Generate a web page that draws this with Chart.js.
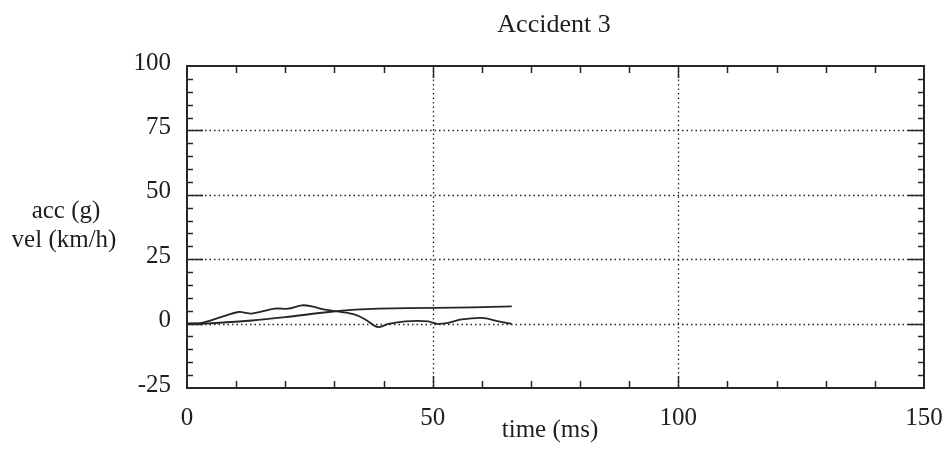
<!DOCTYPE html>
<html><head><meta charset="utf-8">
<script src="https://cdn.jsdelivr.net/npm/chart.js@4/dist/chart.umd.min.js"></script>
<style>html,body{margin:0;padding:0;background:#fff}#wrap{width:952px;height:449px}</style>
</head><body><div id="wrap"><canvas id="c" width="952" height="449"></canvas></div>
<script>
const titleText = "Accident 3";
const xTitle = "time (ms)";
const yTitleLines = ["acc (g)", "vel (km/h)"];
const accTime = [0, 3.0, 6.4, 10.5, 13.2, 17.9, 20.6, 23.4, 25.4, 28.1, 31.5, 34.2, 36.3, 38.3, 39.3, 41.0, 44.4, 49.1, 50.9, 53.2, 55.9, 60.0, 63.4, 66.1];
const accVal  = [0, 0.3, 2.2, 4.5, 3.9, 5.8, 5.8, 7.1, 6.7, 5.4, 4.5, 3.5, 1.6, -1.0, -1.3, -0.1, 0.9, 0.9, -0.1, 0.3, 1.6, 2.2, 0.9, -0.1];
const velTime = [0, 3.7, 13.2, 20.0, 28.8, 34.2, 39.0, 50.6, 58.1, 66.1];
const velVal  = [0, 0, 1.2, 2.5, 4.5, 5.4, 5.8, 6.1, 6.3, 6.7];
const xMajor = [0, 50, 100, 150];
const yMajor = [-25, 0, 25, 50, 75, 100];
const xMinor = [10, 20, 30, 40, 50, 60, 70, 80, 90, 100, 110, 120, 130, 140];
const yMinor = [-20, -15, -10, -5, 0, 5, 10, 15, 20, 25, 30, 35, 40, 45, 50, 55, 60, 65, 70, 75, 80, 85, 90, 95];
const xGrid = [50, 100];
const yGrid = [0, 25, 50, 75];

const FONT = "'Liberation Serif', 'Times New Roman', serif";
const INK = '#262626';

const frame = {
  id: 'frame',
  afterDatasetsDraw(chart) {
    const {ctx, chartArea: a, scales: {x, y}} = chart;
    ctx.save();
    // dotted grid
    ctx.strokeStyle = INK; ctx.lineWidth = 1.3; ctx.setLineDash([1.5, 3]);
    yGrid.forEach(v => { const py = Math.round(y.getPixelForValue(v)) + 0.5; ctx.beginPath(); ctx.moveTo(a.left, py); ctx.lineTo(a.right, py); ctx.stroke(); });
    xGrid.forEach(v => { const px = Math.round(x.getPixelForValue(v)) + 0.5; ctx.beginPath(); ctx.moveTo(px, a.top); ctx.lineTo(px, a.bottom); ctx.stroke(); });
    ctx.setLineDash([]);
    // border
    ctx.lineWidth = 2; ctx.strokeStyle = INK;
    ctx.strokeRect(a.left, a.top, a.right - a.left, a.bottom - a.top);
    // ticks
    ctx.lineWidth = 1.5;
    xMinor.forEach(v => {
      const px = Math.round(x.getPixelForValue(v)) + 0.5;
      const len = xGrid.includes(v) ? 12 : 7;
      ctx.beginPath(); ctx.moveTo(px, a.bottom); ctx.lineTo(px, a.bottom - len); ctx.stroke();
      ctx.beginPath(); ctx.moveTo(px, a.top); ctx.lineTo(px, a.top + len); ctx.stroke();
    });
    yMinor.forEach(v => {
      const py = Math.round(y.getPixelForValue(v)) + 0.5;
      const len = yGrid.includes(v) ? 16 : 6;
      ctx.beginPath(); ctx.moveTo(a.left, py); ctx.lineTo(a.left + len, py); ctx.stroke();
      ctx.beginPath(); ctx.moveTo(a.right, py); ctx.lineTo(a.right - len, py); ctx.stroke();
    });
    // texts
    ctx.fillStyle = '#1e1e1e';
    ctx.textAlign = 'center'; ctx.textBaseline = 'alphabetic';
    ctx.font = '26px ' + FONT;
    ctx.fillText(titleText, 554, 32);
    ctx.font = '25px ' + FONT;
    ctx.fillText(xTitle, 550, 437);
    ctx.fillText(yTitleLines[0], 66, 218);
    ctx.fillText(yTitleLines[1], 64, 247);
    ctx.restore();
  }
};

new Chart(document.getElementById('c'), {
  type: 'line',
  data: {
    datasets: [
      { label: 'acc', data: accTime.map((t, i) => ({x: t, y: accVal[i]})), borderColor: INK, borderWidth: 1.8, pointRadius: 0, tension: 0.3, fill: false },
      { label: 'vel', data: velTime.map((t, i) => ({x: t, y: velVal[i]})), borderColor: INK, borderWidth: 1.8, pointRadius: 0, tension: 0.3, fill: false }
    ]
  },
  options: {
    responsive: false, animation: false, devicePixelRatio: 1,
    layout: { padding: { left: 0, right: 28, top: 66, bottom: 0 } },
    plugins: { legend: { display: false }, title: { display: false }, tooltip: { enabled: false } },
    scales: {
      x: {
        type: 'linear', min: 0, max: 150,
        afterFit(s) { s.height = 61; s.paddingLeft = 0; s.paddingRight = 0; },
        afterBuildTicks(s) { s.ticks = xMajor.map(v => ({value: v})); },
        grid: { display: false, drawTicks: false }, border: { display: false },
        ticks: { color: '#1e1e1e', font: { family: FONT, size: 25 }, padding: 15, maxRotation: 0 }
      },
      y: {
        min: -25, max: 100,
        afterFit(s) { s.width = 187; s.paddingTop = 0; s.paddingBottom = 0; },
        afterBuildTicks(s) { s.ticks = yMajor.map(v => ({value: v})); },
        grid: { display: false, drawTicks: false }, border: { display: false },
        ticks: { color: '#1e1e1e', font: { family: FONT, size: 25 }, padding: 16, labelOffset: -3 }
      }
    }
  },
  plugins: [frame]
});
</script></body></html>
